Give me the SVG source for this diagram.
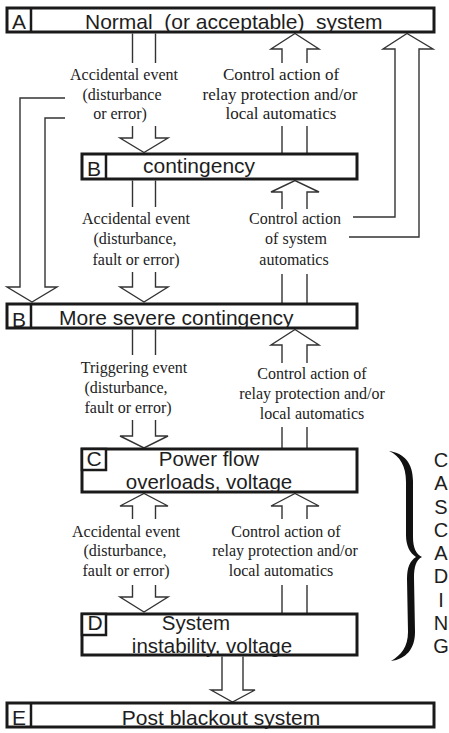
<svg xmlns="http://www.w3.org/2000/svg" width="449" height="733" viewBox="0 0 449 733">
  <style>
    .box { fill: #fff; stroke: #1a1a1a; stroke-width: 3; }
    .div { stroke: #1a1a1a; stroke-width: 2.5; fill: none; }
    .tag { fill: #fff; stroke: #1a1a1a; stroke-width: 2.5; }
    .title { font-family: "Liberation Sans", Arial, sans-serif; font-size: 21px; fill: #1e1e1e; }
    .two { font-size: 20.5px; }
    .note { font-family: "Liberation Serif", "Times New Roman", serif; font-size: 16px; fill: #222; text-anchor: middle; }
    .big { font-size: 17px; }
    .arr { fill: none; stroke: #333; stroke-width: 1.4; stroke-linejoin: miter; }
    .cas { font-family: "Liberation Sans", Arial, sans-serif; font-size: 20px; fill: #1e1e1e; text-anchor: middle; }
  </style>

  <!-- connectors -->
  <g id="connectors" class="arr">
    <!-- A -> B accidental event -->
    <path d="M132.5,33.5 V63 M155.5,33.5 V63 M132.5,126 V138 H120 L144,152.5 L168,138 H155.5 V126"/>
    <!-- B -> A control action -->
    <path d="M282,63 V49 H271 L295,33.5 L319,49 H307 V63 M282,126 V153 M307,126 V153"/>
    <!-- A text -> severe contingency (left big arrow) -->
    <path d="M65,98 H20 V287 H7 L32,302 L57,287 H45 V118 H65"/>
    <!-- system automatics -> A (right big arrow) -->
    <path d="M353,217 H395 V49 H383 L407,33.5 L433,49 H419 V237 H349"/>
    <!-- B -> severe accidental event -->
    <path d="M132.5,180.5 V207 M155.5,180.5 V207 M132.5,272 V287 H120 L144,302 L168,287 H155.5 V272"/>
    <!-- severe -> B system automatics -->
    <path d="M282,209 V192 H271 L295,180.5 L319,192 H307 V209 M282,274 V303 M307,274 V303"/>
    <!-- severe -> C triggering event -->
    <path d="M132.5,329.5 V355 M155.5,329.5 V355 M132.5,420 V436 H120 L144,448 L168,436 H155.5 V420"/>
    <!-- C -> severe control action -->
    <path d="M282,363 V345 H271 L295,329.5 L319,345 H307 V363 M282,427 V448 M307,427 V448"/>
    <!-- C / D accidental event -->
    <path d="M132.5,519 V506 H120 L144,493.5 L168,506 H155.5 V519 M132.5,585 V597 H120 L144,612 L168,597 H155.5 V585"/>
    <!-- D -> C control action -->
    <path d="M282,519 V506 H271 L295,493.5 L319,506 H307 V519 M282,585 V613 M307,585 V613"/>
    <!-- D -> E -->
    <path d="M222,656.5 V690 H211 L232.5,702 L255,690 H243 V656.5"/>
  </g>

  <!-- connector labels -->
  <g id="labels">
    <text class="note" x="124" y="80">Accidental event</text>
    <text class="note" x="122" y="100">(disturbance</text>
    <text class="note" x="120" y="119">or error)</text>
    <text class="note big" x="281" y="80">Control action of</text>
    <text class="note big" x="280" y="100">relay protection and/or</text>
    <text class="note big" x="281" y="119">local automatics</text>

    <text class="note" x="136" y="224">Accidental event</text>
    <text class="note" x="135" y="244">(disturbance,</text>
    <text class="note" x="136" y="265">fault or error)</text>
    <text class="note" x="295" y="224">Control action</text>
    <text class="note" x="296" y="244">of system</text>
    <text class="note" x="294" y="265">automatics</text>

    <text class="note" x="134" y="373">Triggering event</text>
    <text class="note" x="126" y="393">(disturbance,</text>
    <text class="note" x="128" y="413">fault or error)</text>
    <text class="note" x="312" y="379">Control action of</text>
    <text class="note" x="312" y="399">relay protection and/or</text>
    <text class="note" x="312" y="419">local automatics</text>

    <text class="note" x="126" y="537">Accidental event</text>
    <text class="note" x="125" y="556">(disturbance,</text>
    <text class="note" x="126" y="576">fault or error)</text>
    <text class="note" x="286" y="537">Control action of</text>
    <text class="note" x="285" y="556">relay protection and/or</text>
    <text class="note" x="281" y="576">local automatics</text>
  </g>

  <!-- A: normal system -->
  <g id="nodeA">
    <rect class="box" x="7" y="8" width="427" height="24"/>
    <line class="div" x1="31" y1="8" x2="31" y2="32"/>
    <text class="title" x="19" y="29" text-anchor="middle">A</text>
    <text class="title" x="85" y="29" xml:space="preserve">Normal  (or acceptable)  system</text>
  </g>

  <!-- B: contingency -->
  <g id="nodeB">
    <rect class="box" x="82" y="154" width="275" height="25"/>
    <line class="div" x1="106" y1="154" x2="106" y2="179"/>
    <text class="title" x="94" y="176" text-anchor="middle">B</text>
    <text class="title" x="143" y="173">contingency</text>
  </g>

  <!-- B: more severe contingency -->
  <g id="nodeB2">
    <rect class="box" x="7" y="304" width="350" height="24"/>
    <line class="div" x1="31" y1="304" x2="31" y2="328"/>
    <text class="title" x="19" y="327" text-anchor="middle">B</text>
    <text class="title" x="59" y="325">More severe contingency</text>
  </g>

  <!-- C: power flow -->
  <g id="nodeC">
    <rect class="box" x="82" y="449" width="275" height="43"/>
    <rect class="tag" x="82" y="449" width="24" height="21"/>
    <text class="title" x="94" y="466" text-anchor="middle">C</text>
    <text class="title two" x="209" y="466" text-anchor="middle">Power flow</text>
    <text class="title two" x="209" y="489" text-anchor="middle">overloads, voltage</text>
  </g>

  <!-- D: system instability -->
  <g id="nodeD">
    <rect class="box" x="82" y="614" width="275" height="41"/>
    <rect class="tag" x="82" y="614" width="24" height="21"/>
    <text class="title" x="95" y="630" text-anchor="middle">D</text>
    <text class="title two" x="196" y="630" text-anchor="middle">System</text>
    <text class="title two" x="212" y="653" text-anchor="middle">instability, voltage</text>
  </g>

  <!-- E: post blackout -->
  <g id="nodeE">
    <rect class="box" x="7" y="703" width="427" height="24"/>
    <line class="div" x1="31" y1="703" x2="31" y2="727"/>
    <text class="title" x="19" y="725" text-anchor="middle">E</text>
    <text class="title" x="221" y="725" text-anchor="middle">Post blackout system</text>
  </g>

  <!-- cascading brace -->
  <g id="cascading">
    <path fill="#111" d="M389,451 C404,453 413,463 413,481 L413,537 C413,548 416,554 422,557 C416,560 414,567 414,578 L415,632 C415,649 406,659 391,661 C401,655 408,647 408,632 L407,579 C407,567 410,561 416,557 C410,553 406,546 406,535 L406,482 C406,466 400,456 389,451 Z"/>
    <text class="cas" x="441" y="467">C</text>
    <text class="cas" x="441" y="490">A</text>
    <text class="cas" x="441" y="514">S</text>
    <text class="cas" x="441" y="537">C</text>
    <text class="cas" x="441" y="560">A</text>
    <text class="cas" x="441" y="583">D</text>
    <text class="cas" x="441" y="607">I</text>
    <text class="cas" x="441" y="630">N</text>
    <text class="cas" x="441" y="653">G</text>
  </g>
</svg>
